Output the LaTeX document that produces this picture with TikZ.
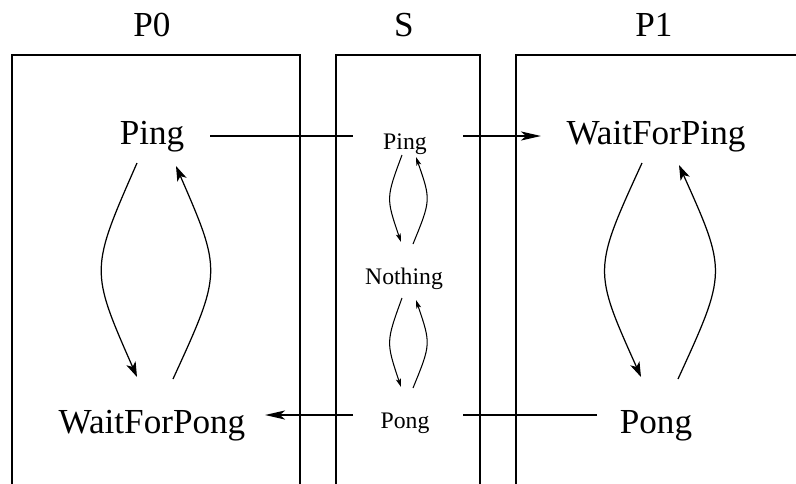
\documentclass[tikz,border=0pt]{standalone}
\usepackage{fontspec}
\setmainfont{Liberation Serif}
\usetikzlibrary{arrows.meta}

\tikzset{
    box/.style={line width=0.8pt},
    big/.style={font=\fontsize{20}{24}\selectfont, inner sep=0pt, anchor=base},
    small/.style={font=\fontsize{13.5}{16}\selectfont, inner sep=0pt, anchor=base},
    msg/.style={line width=1.3pt},
    msgarrow/.style={msg, -{Stealth[length=4mm, width=1.8mm, inset=1mm]}},
    trans/.style={line width=0.7pt, -{Stealth[length=3mm, width=2mm, inset=0.8mm]}},
    strans/.style={line width=0.6pt, -{Stealth[length=1.7mm, width=1mm, inset=0.4mm]}},
}

\begin{document}
\begin{tikzpicture}[x=0.2mm, y=-0.2mm]
    \useasboundingbox (0,0) rectangle (796,484);

    % the three processes
    \draw[box] (12,484) |- (300,55) -- (300,484);
    \draw[box] (336,484) |- (480,55) -- (480,484);
    \draw[box] (516,484) |- (796,55);

    \node[big] (lblP0) at (152,36) {P0};
    \node[big] (lblS)  at (404,36) {S};
    \node[big] (lblP1) at (654,36) {P1};

    % states
    \node[big] (ping0) at (152,144) {Ping};
    \node[big] (wait0) at (152,433) {WaitForPong};

    \node[small] (pingS)    at (405,149) {Ping};
    \node[small] (nothingS) at (404,284) {Nothing};
    \node[small] (pongS)    at (405,428) {Pong};

    \node[big] (wait1) at (656,144) {WaitForPing};
    \node[big] (pong1) at (656,433) {Pong};

    % messages through S
    \draw[msg] ([shift={(58,-8)}]ping0.base) -- ([shift={(-52,-13)}]pingS.base);
    \draw[msgarrow] ([shift={(58,-13)}]pingS.base) -- ([shift={(-115,-8)}]wait1.base);
    \draw[msg] ([shift={(-59,-18)}]pong1.base) -- ([shift={(58,-13)}]pongS.base);
    \draw[msgarrow] ([shift={(-52,-13)}]pongS.base) -- ([shift={(113,-18)}]wait0.base);

    % P0
    \draw[trans] ([shift={(-15,19)}]ping0.base) .. controls (90,270) .. ([shift={(-15,-56)}]wait0.base);
    \draw[trans] ([shift={(21,-54)}]wait0.base) .. controls (222,272) .. ([shift={(24,22)}]ping0.base);

    % P1
    \draw[trans] ([shift={(-14,19)}]wait1.base) .. controls (593,270) .. ([shift={(-15,-56)}]pong1.base);
    \draw[trans] ([shift={(22,-54)}]pong1.base) .. controls (727,272) .. ([shift={(23,21)}]wait1.base);

    % S
    \draw[strans] ([shift={(-3,6)}]pingS.base) .. controls (386,198) .. ([shift={(-3,-42)}]nothingS.base);
    \draw[strans] ([shift={(9,-40)}]nothingS.base) .. controls (431,200) .. ([shift={(11,8)}]pingS.base);
    \draw[strans] ([shift={(-2,14)}]nothingS.base) .. controls (386,342) .. ([shift={(-4,-41)}]pongS.base);
    \draw[strans] ([shift={(8,-40)}]pongS.base) .. controls (431,344) .. ([shift={(12,16)}]nothingS.base);

\end{tikzpicture}
\end{document}
